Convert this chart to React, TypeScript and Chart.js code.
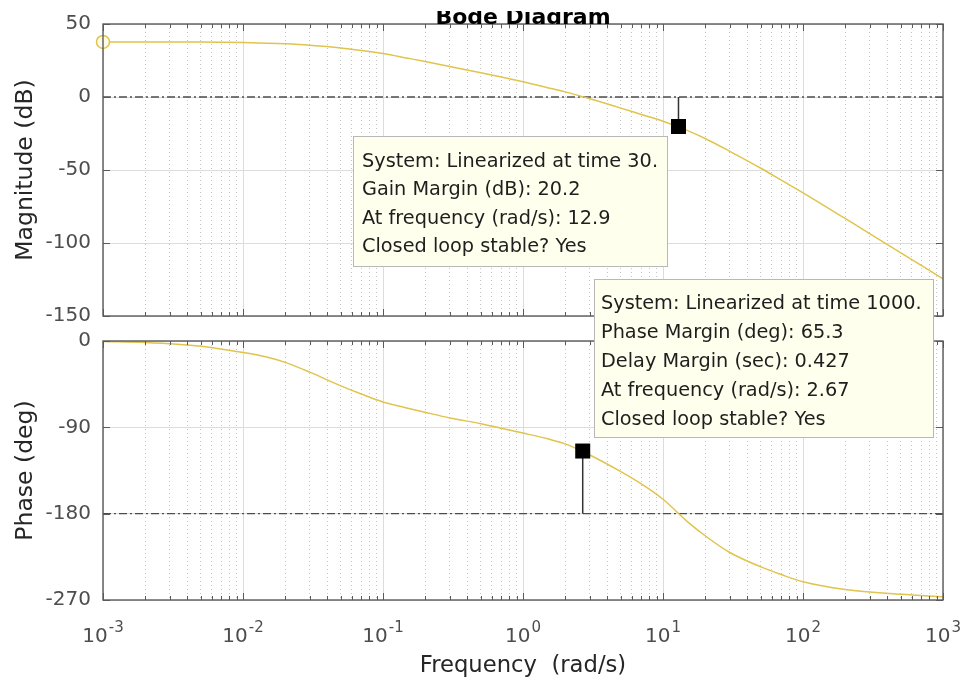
import React, { useEffect, useRef } from 'react';
import { Chart, registerables } from 'chart.js';

Chart.register(...registerables);

// ---------- data ----------
const frequencies = [0.001, 0.002, 0.005, 0.01, 0.015, 0.02, 0.03, 0.05, 0.07, 0.1, 0.15, 0.2, 0.3, 0.5, 0.7, 1, 1.5, 2, 3, 5, 7, 10, 15, 20, 30, 50, 70, 100, 200, 500, 1000];
const magnitudeDb = [37.7, 37.7, 37.6, 37.3, 36.9, 36.4, 35.4, 33.6, 31.9, 29.8, 26.6, 24.3, 20.9, 16.6, 13.7, 10.4, 6.4, 3.5, -1.2, -7.6, -12.0, -16.6, -23.0, -28.4, -37.2, -48.8, -57.0, -65.6, -83.2, -106.8, -124.5];
const phaseDeg = [-0.6, -1.6, -5.5, -12, -17.0, -22.3, -32.5, -46.8, -55.3, -63.5, -70.0, -74.3, -80.2, -86.2, -91, -96, -102, -107.2, -118.8, -136.2, -149, -165, -188.5, -203, -220.5, -235.5, -243.5, -251, -259, -264, -266.6];

const gainMarginDb = 20.2;
const gainCrossFreq = 12.9;
const phaseMarginDeg = 65.3;
const delayMarginSec = 0.427;
const phaseCrossFreq = 2.67;

const xTickExponents = [-3, -2, -1, 0, 1, 2, 3];
const magRange = [-150, 50];
const magStep = 50;
const phaseRange = [-270, 0];
const phaseStep = 90;

const gainTipLines = [
  'System: Linearized at time 30.',
  `Gain Margin (dB): ${gainMarginDb}`,
  `At frequency (rad/s): ${gainCrossFreq}`,
  'Closed loop stable? Yes',
];
const phaseTipLines = [
  'System: Linearized at time 1000.',
  `Phase Margin (deg): ${phaseMarginDeg}`,
  `Delay Margin (sec): ${delayMarginSec}`,
  `At frequency (rad/s): ${phaseCrossFreq}`,
  'Closed loop stable? Yes',
];

// ---------- styles ----------
const FONT = '"DejaVu Sans", "Liberation Sans", sans-serif';
const CURVE = '#dfc44e';
const AXIS = '#5a5a5a';
const GRID_MAJOR = '#dcdcdc';
const GRID_MINOR = '#c6c6c6';
const TICK_TEXT = '#4d4d4d';
const LABEL_TEXT = '#262626';
const REF_LINE = '#4d4d4d';
const TIP_BG = '#ffffee';
const TIP_BORDER = '#b8b8b8';
const TIP_TEXT = '#1e1e1e';

const xMin = Math.pow(10, xTickExponents[0]);
const xMax = Math.pow(10, xTickExponents[xTickExponents.length - 1]);

const isDecade = (v: number) => Math.abs(Math.log10(v) - Math.round(Math.log10(v))) < 1e-9;

const xGridValues: number[] = (() => {
  const out: number[] = [];
  for (let e = xTickExponents[0]; e < xTickExponents[xTickExponents.length - 1]; e++) {
    for (let m = 1; m <= 9; m++) out.push(m * Math.pow(10, e));
  }
  out.push(xMax);
  return out;
})();

function xScaleOptions() {
  return {
    type: 'logarithmic',
    min: xMin,
    max: xMax,
    afterBuildTicks: (scale: any) => {
      scale.ticks = xGridValues.map((v) => ({ value: v, major: isDecade(v) }));
    },
    afterFit: (scale: any) => {
      scale.height = 0;
    },
    ticks: { display: false },
    grid: {
      drawTicks: false,
      lineWidth: 1,
      color: (c: any) => (c.tick && !isDecade(c.tick.value) ? GRID_MINOR : GRID_MAJOR),
    },
    border: {
      display: false,
      dash: (c: any) => (c.tick && !isDecade(c.tick.value) ? [1, 3] : []),
    },
  };
}

function yScaleOptions(range: number[], step: number) {
  return {
    type: 'linear',
    min: range[0],
    max: range[1],
    afterFit: (scale: any) => {
      scale.width = 103;
    },
    ticks: {
      stepSize: step,
      padding: 12,
      color: TICK_TEXT,
      font: { family: FONT, size: 20 },
    },
    grid: { drawTicks: false, color: GRID_MAJOR, lineWidth: 1 },
    border: { display: false },
  };
}

function drawFrame(chart: any) {
  const { ctx, chartArea: a, scales } = chart;
  const x = scales.x;
  const y = scales.y;
  ctx.save();
  ctx.strokeStyle = AXIS;
  ctx.lineWidth = 1;
  ctx.beginPath();
  for (const t of x.ticks) {
    const px = Math.round(x.getPixelForValue(t.value)) + 0.5;
    const len = isDecade(t.value) ? 7 : 4;
    ctx.moveTo(px, a.bottom);
    ctx.lineTo(px, a.bottom - len);
    ctx.moveTo(px, a.top);
    ctx.lineTo(px, a.top + len);
  }
  for (const t of y.ticks) {
    const py = Math.round(y.getPixelForValue(t.value)) + 0.5;
    ctx.moveTo(a.left, py);
    ctx.lineTo(a.left + 7, py);
    ctx.moveTo(a.right, py);
    ctx.lineTo(a.right - 7, py);
  }
  ctx.stroke();
  ctx.lineWidth = 1.4;
  ctx.strokeRect(a.left, a.top, a.right - a.left, a.bottom - a.top);
  ctx.restore();
}

function drawYTitle(chart: any, text: string) {
  const { ctx, chartArea: a } = chart;
  ctx.save();
  ctx.translate(32, (a.top + a.bottom) / 2);
  ctx.rotate(-Math.PI / 2);
  ctx.fillStyle = LABEL_TEXT;
  ctx.font = `23.5px ${FONT}`;
  ctx.textAlign = 'center';
  ctx.textBaseline = 'alphabetic';
  ctx.fillText(text, 0, 0);
  ctx.restore();
}

type TipBox = { x: number; y: number; w: number; h: number; tx: number; ty: number; dy: number };

function drawTip(ctx: CanvasRenderingContext2D, box: TipBox, lines: string[]) {
  ctx.save();
  ctx.fillStyle = TIP_BG;
  ctx.fillRect(box.x, box.y, box.w, box.h);
  ctx.strokeStyle = TIP_BORDER;
  ctx.lineWidth = 1;
  ctx.strokeRect(box.x + 0.5, box.y + 0.5, box.w - 1, box.h - 1);
  ctx.fillStyle = TIP_TEXT;
  ctx.font = `19.3px ${FONT}`;
  ctx.textAlign = 'left';
  ctx.textBaseline = 'middle';
  lines.forEach((s, i) => ctx.fillText(s, box.tx, box.ty + i * box.dy));
  ctx.restore();
}

const topPlugin = {
  id: 'bodeTopDecor',
  afterDraw(chart: any) {
    const { ctx, chartArea: a } = chart;
    drawFrame(chart);
    // title (partially cut at the top, as in the reference)
    ctx.save();
    ctx.beginPath();
    ctx.rect(0, 11, chart.width, a.top - 11);
    ctx.clip();
    ctx.fillStyle = '#000';
    ctx.font = `bold 22px ${FONT}`;
    ctx.textAlign = 'center';
    ctx.textBaseline = 'alphabetic';
    ctx.fillText('Bode Diagram', (a.left + a.right) / 2, a.top - 0.5);
    ctx.restore();
    drawYTitle(chart, 'Magnitude (dB)');
    drawTip(ctx, { x: 353, y: 136, w: 315, h: 131, tx: 362, ty: 162, dy: 28.3 }, gainTipLines);
    drawTip(ctx, { x: 594, y: 279, w: 340, h: 159, tx: 601, ty: 303.5, dy: 29 }, phaseTipLines);
  },
};

const bottomPlugin = {
  id: 'bodeBottomDecor',
  afterDraw(chart: any) {
    const { ctx, chartArea: a, scales } = chart;
    drawFrame(chart);
    drawYTitle(chart, 'Phase (deg)');
    // x tick labels 10^n
    ctx.save();
    ctx.fillStyle = TICK_TEXT;
    ctx.textBaseline = 'alphabetic';
    ctx.textAlign = 'left';
    for (const e of xTickExponents) {
      const px = scales.x.getPixelForValue(Math.pow(10, e));
      const base = '10';
      const exp = String(e);
      ctx.font = `20px ${FONT}`;
      const wb = ctx.measureText(base).width;
      ctx.font = `15px ${FONT}`;
      const we = ctx.measureText(exp).width;
      const start = px - (wb + 1 + we) / 2;
      ctx.font = `20px ${FONT}`;
      ctx.fillText(base, start, a.bottom + 42);
      ctx.font = `15px ${FONT}`;
      ctx.fillText(exp, start + wb + 1, a.bottom + 32);
    }
    ctx.restore();
    // x title
    ctx.save();
    ctx.fillStyle = LABEL_TEXT;
    ctx.font = `22.7px ${FONT}`;
    ctx.textAlign = 'center';
    ctx.textBaseline = 'alphabetic';
    ctx.fillText('Frequency  (rad/s)', (a.left + a.right) / 2, a.bottom + 72);
    ctx.restore();
  },
};

function curveData(values: number[]) {
  return frequencies.map((f, i) => ({ x: f, y: values[i] }));
}

export default function App() {
  const topRef = useRef<HTMLCanvasElement | null>(null);
  const bottomRef = useRef<HTMLCanvasElement | null>(null);

  useEffect(() => {
    const gainMarkerY = -gainMarginDb;
    const phaseMarkerY = -180 + phaseMarginDeg;

    const common = {
      animation: false,
      responsive: false,
      events: [],
      plugins: { legend: { display: false }, tooltip: { enabled: false }, title: { display: false } },
    };

    const top = new Chart(topRef.current as HTMLCanvasElement, {
      type: 'line',
      data: {
        datasets: [
          {
            data: [{ x: gainCrossFreq, y: gainMarkerY }],
            showLine: false,
            pointStyle: 'rect',
            pointRadius: 10.6,
            pointBackgroundColor: '#000',
            pointBorderColor: '#000',
            pointBorderWidth: 0,
            order: 0,
          },
          {
            data: [{ x: frequencies[0], y: magnitudeDb[0] }],
            showLine: false,
            pointStyle: 'circle',
            pointRadius: 6.5,
            pointBackgroundColor: '#fffbe6',
            pointBorderColor: CURVE,
            pointBorderWidth: 1.5,
            clip: false,
            order: 0,
          },
          {
            data: [{ x: gainCrossFreq, y: 0 }, { x: gainCrossFreq, y: gainMarkerY }],
            borderColor: '#333',
            borderWidth: 1.5,
            pointRadius: 0,
            order: 1,
          },
          {
            data: curveData(magnitudeDb),
            borderColor: CURVE,
            borderWidth: 1.5,
            pointRadius: 0,
            cubicInterpolationMode: 'monotone',
            order: 2,
          },
          {
            data: [{ x: xMin, y: 0 }, { x: xMax, y: 0 }],
            borderColor: REF_LINE,
            borderWidth: 1.3,
            borderDash: [8, 3, 2, 3],
            pointRadius: 0,
            order: 3,
          },
        ],
      },
      options: {
        ...common,
        layout: { padding: { top: 22, right: 20, bottom: 129, left: 0 } },
        scales: {
          x: xScaleOptions(),
          y: yScaleOptions(magRange, magStep),
        },
      } as any,
      plugins: [topPlugin],
    } as any);

    const bottom = new Chart(bottomRef.current as HTMLCanvasElement, {
      type: 'line',
      data: {
        datasets: [
          {
            data: [{ x: phaseCrossFreq, y: phaseMarkerY }],
            showLine: false,
            pointStyle: 'rect',
            pointRadius: 10.6,
            pointBackgroundColor: '#000',
            pointBorderColor: '#000',
            pointBorderWidth: 0,
            order: 0,
          },
          {
            data: [{ x: phaseCrossFreq, y: -180 }, { x: phaseCrossFreq, y: phaseMarkerY }],
            borderColor: '#333',
            borderWidth: 1.5,
            pointRadius: 0,
            order: 1,
          },
          {
            data: curveData(phaseDeg),
            borderColor: CURVE,
            borderWidth: 1.5,
            pointRadius: 0,
            cubicInterpolationMode: 'monotone',
            order: 2,
          },
          {
            data: [{ x: xMin, y: -180 }, { x: xMax, y: -180 }],
            borderColor: REF_LINE,
            borderWidth: 1.3,
            borderDash: [8, 3, 2, 3],
            pointRadius: 0,
            order: 3,
          },
        ],
      },
      options: {
        ...common,
        layout: { padding: { top: 341, right: 20, bottom: 78, left: 0 } },
        scales: {
          x: xScaleOptions(),
          y: yScaleOptions(phaseRange, phaseStep),
        },
      } as any,
      plugins: [bottomPlugin],
    } as any);

    return () => {
      top.destroy();
      bottom.destroy();
    };
  }, []);

  return (
    <div style={{ position: 'fixed', left: 0, top: 0, width: 963, height: 678, background: '#fff', overflow: 'hidden' }}>
      <canvas
        ref={bottomRef}
        width={963}
        height={678}
        style={{ position: 'absolute', left: 0, top: 0, width: 963, height: 678 }}
      />
      <canvas
        ref={topRef}
        width={963}
        height={445}
        style={{ position: 'absolute', left: 0, top: 0, width: 963, height: 445 }}
      />
    </div>
  );
}
